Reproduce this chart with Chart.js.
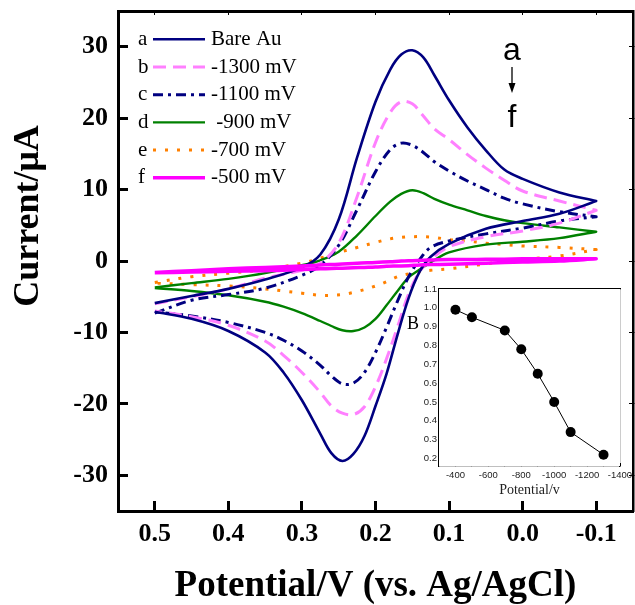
<!DOCTYPE html>
<html><head><meta charset="utf-8">
<script src="https://cdn.jsdelivr.net/npm/chart.js@4/dist/chart.umd.min.js"></script>
<style>
html,body{margin:0;padding:0;background:#fff;overflow:hidden}
#wrap{position:relative;width:635px;height:605px}
#main{position:absolute;left:0;top:0}
#inset{position:absolute;left:395px;top:282px}
</style></head>
<body><div id="wrap"><canvas id="main" width="635" height="605"></canvas><canvas id="inset" width="240" height="218"></canvas></div>
<script>
// ---------- data ----------
const potFwd = [0.5,0.45,0.4,0.35,0.3,0.275,0.25,0.225,0.2,0.18,0.165,0.15,0.135,0.12,0.1,0.075,0.05,0.025,0,-0.05,-0.1];
const potRev = [-0.1,-0.05,0,0.05,0.1,0.125,0.14,0.155,0.17,0.185,0.2,0.215,0.23,0.245,0.26,0.275,0.3,0.325,0.35,0.4,0.45,0.5];

const aFwd = [-5.9,-4.9,-3.9,-2.6,-0.9,0.9,5.8,14.5,22.3,26.8,28.9,29.5,28.5,26,22.5,18.7,15.5,12.8,11.5,9.6,8.4];
const aRev = [8.4,6.6,5.6,4.5,2.4,0.6,-1.5,-5.2,-10.3,-15.8,-20.3,-24.5,-27.0,-28.0,-26.9,-24.2,-19.5,-15.6,-12.8,-9.8,-8.1,-7.1];
const bFwd = [-6.0,-5.0,-3.9,-2.4,-1.3,-0.3,2.5,9.0,16.6,20.8,22.3,22.0,20.3,18.5,17.0,14.9,13.0,11.3,9.8,8.4,7.1];
const bRev = [7.1,5.3,4.2,3.4,2.0,0.2,-1.5,-4.6,-9.2,-13.7,-17.6,-20.4,-21.5,-21.3,-20.3,-18.4,-15.6,-13.2,-11.2,-9.0,-7.8,-7.0];
const cFwd = [-7.3,-5.5,-4.7,-3.8,-2.0,-0.6,2.2,7.2,12.5,15.6,16.5,16.2,15.2,13.9,12.6,11.2,10.0,8.8,8.0,6.9,6.2];
const cRev = [6.2,5.6,4.6,3.8,2.8,1.9,0.2,-2.2,-5.6,-9.3,-12.8,-15.6,-17.1,-17.2,-16.1,-14.6,-12.6,-11.1,-10.0,-8.6,-7.7,-7.1];
const dFwd = [-3.7,-3.1,-2.5,-1.7,-0.6,0.1,1.3,3.6,6.3,8.3,9.4,9.9,9.5,8.7,7.9,7.1,6.3,5.7,5.3,4.7,4.1];
const dRev = [4.1,3.2,2.7,2.3,1.2,-0.2,-1.2,-2.3,-4.2,-6.2,-8.1,-9.3,-9.8,-9.7,-9.1,-8.4,-7.3,-6.4,-5.7,-4.8,-4.2,-3.8];
const eFwd = [-3.0,-2.2,-1.7,-1.2,-0.3,0.4,1.2,1.9,2.6,3.1,3.3,3.4,3.4,3.3,3.0,2.8,2.5,2.3,2.1,1.9,1.6];
const eRev = [1.6,0.7,0.2,-0.4,-1.1,-1.3,-1.5,-1.8,-2.2,-2.9,-3.5,-4.0,-4.4,-4.7,-4.8,-4.8,-4.5,-4.2,-3.9,-3.5,-3.3,-3.1];
const fFwd = [-1.6,-1.35,-1.1,-0.9,-0.7,-0.55,-0.45,-0.3,-0.2,-0.1,0.0,0.05,0.1,0.15,0.2,0.2,0.25,0.25,0.3,0.3,0.3];
const fRev = [0.3,0.0,-0.15,-0.3,-0.45,-0.5,-0.55,-0.65,-0.7,-0.75,-0.85,-0.9,-0.95,-1.0,-1.05,-1.1,-1.2,-1.3,-1.35,-1.45,-1.55,-1.65];

const seriesLetters = ['a','b','c','d','e','f'];
const seriesNames = ['Bare Au','-1300 mV','-1100 mV',' -900 mV','-700 mV','-500 mV'];
const xTickVals = [0.5,0.4,0.3,0.2,0.1,0.0,-0.1];
const yTickVals = [30,20,10,0,-10,-20,-30];
const xTitle = 'Potential/V (vs. Ag/AgCl)';
const yTitle = 'Current/\u03BCA';

// inset
const insetPot = [-400,-500,-700,-800,-900,-1000,-1100,-1300];
const insetVal = [0.99,0.95,0.88,0.78,0.65,0.50,0.34,0.22];
const insetXTicks = [-400,-500,-600,-700,-800,-900,-1000,-1100,-1200,-1300,-1400];
const insetYTicks = [0.2,0.25,0.3,0.35,0.4,0.45,0.5,0.55,0.6,0.65,0.7,0.75,0.8,0.85,0.9,0.95,1.0,1.05,1.1];
const insetXTitle = 'Potential/v';
const insetLabel = 'B';

// ---------- helpers ----------
function pts(xs, ys){ return xs.map((x,i)=>({x:x, y:ys[i]})); }
function loop(f, r){ return pts(potFwd, f).concat(pts(potRev, r)); }
function zeroPad(s){ s.paddingLeft=0; s.paddingRight=0; s.paddingTop=0; s.paddingBottom=0; }
const SERIF = '"Liberation Serif","Times New Roman",serif';
const SANS = '"Liberation Sans",Arial,sans-serif';

const mk = (i, data, style) => Object.assign({label: seriesNames[i], data: data, showLine: true,
  pointRadius: 0, pointHoverRadius: 0, tension: 0.35, fill: false,
  borderCapStyle: 'butt', borderJoinStyle: 'round'}, style);

const legendPlugin = {
  id: 'cvLegend',
  afterDatasetsDraw(chart){
    const ctx = chart.ctx;
    ctx.save();
    chart.data.datasets.forEach((ds, i) => {
      const y = 39.3 + i * 27.7;
      ctx.fillStyle = '#000';
      ctx.font = '21px ' + SERIF;
      ctx.textBaseline = 'middle';
      ctx.textAlign = 'left';
      ctx.fillText(seriesLetters[i], 138, y);
      ctx.fillText(seriesNames[i], 211, y);
      ctx.beginPath();
      ctx.strokeStyle = ds.borderColor;
      ctx.lineWidth = ds.borderWidth;
      ctx.setLineDash(ds.borderDash || []);
      ctx.lineCap = 'butt';
      ctx.moveTo(153, y); ctx.lineTo(205, y);
      ctx.stroke();
      ctx.setLineDash([]);
    });
    // a -> f annotation
    ctx.fillStyle = '#000';
    ctx.font = '32px ' + SANS;
    ctx.textAlign = 'center';
    ctx.textBaseline = 'alphabetic';
    ctx.fillText(seriesLetters[0], 512, 60);
    ctx.fillText(seriesLetters[5], 512, 127);
    ctx.beginPath(); ctx.strokeStyle = '#000'; ctx.lineWidth = 1.3;
    ctx.moveTo(512, 67); ctx.lineTo(512, 86); ctx.stroke();
    ctx.beginPath(); ctx.moveTo(508.5, 83); ctx.lineTo(515.5, 83); ctx.lineTo(512, 93); ctx.closePath(); ctx.fill();
    // y title
    ctx.save();
    ctx.translate(38, 216);
    ctx.rotate(-Math.PI/2);
    ctx.font = 'bold 36px ' + SERIF;
    ctx.textAlign = 'center';
    ctx.textBaseline = 'alphabetic';
    ctx.fillText(yTitle, 0, 0);
    ctx.restore();
    ctx.restore();
  }
};

const tickFont = {family: SERIF, size: 26, weight: 'bold'};

new Chart(document.getElementById('main'), {
  type: 'scatter',
  data: { datasets: [
    mk(0, loop(aFwd, aRev), {borderColor: '#000080', borderWidth: 2.6}),
    mk(1, loop(bFwd, bRev), {borderColor: '#FF80FF', borderWidth: 3, borderDash: [13,7]}),
    mk(2, loop(cFwd, cRev), {borderColor: '#000080', borderWidth: 3, borderDash: [10,5,3,5]}),
    mk(3, loop(dFwd, dRev), {borderColor: '#008000', borderWidth: 2.4}),
    mk(4, loop(eFwd, eRev), {borderColor: '#FF8000', borderWidth: 3, borderDash: [3,9]}),
    mk(5, loop(fFwd, fRev), {borderColor: '#FF00FF', borderWidth: 3.5, order: -1})
  ]},
  options: {
    responsive: false, animation: false, devicePixelRatio: 1,
    layout: { padding: {left: 0, right: 2, top: 11, bottom: 0} },
    plugins: { legend: {display: false}, tooltip: {enabled: false} },
    scales: {
      x: { type: 'linear', position: 'bottom', min: -0.15, max: 0.55, reverse: true,
        afterBuildTicks: s => { s.ticks = xTickVals.map(v => ({value: v})); },
        afterFit: s => { s.height = 94; zeroPad(s); },
        ticks: { padding: 18, color: '#000', font: tickFont, autoSkip: false, maxRotation: 0,
          callback: v => Number(v).toFixed(1) },
        grid: { drawOnChartArea: false, drawTicks: true, tickLength: -10, tickWidth: 3, tickColor: '#000' },
        border: { display: true, color: '#000', width: 3 },
        title: { display: true, text: xTitle, color: '#000',
          font: {family: SERIF, size: 37, weight: 'bold', lineHeight: 1}, padding: {top: 0, bottom: 0} }
      },
      x2: { type: 'linear', position: 'top', min: -0.15, max: 0.55, reverse: true,
        afterBuildTicks: s => { s.ticks = xTickVals.map(v => ({value: v})); },
        afterFit: s => { s.height = 0; zeroPad(s); },
        ticks: { display: false },
        grid: { drawOnChartArea: false, drawTicks: true, tickLength: -4, tickWidth: 1, tickColor: '#000' },
        border: { display: true, color: '#000', width: 3 }
      },
      y: { type: 'linear', position: 'left', min: -35, max: 35,
        afterBuildTicks: s => { s.ticks = yTickVals.map(v => ({value: v})); },
        afterFit: s => { s.width = 118; zeroPad(s); },
        ticks: { padding: 20, color: '#000', font: tickFont, autoSkip: false,
          callback: v => String(v) },
        grid: { drawOnChartArea: false, drawTicks: true, tickLength: -10, tickWidth: 3, tickColor: '#000' },
        border: { display: true, color: '#000', width: 3 }
      },
      y2: { type: 'linear', position: 'right', min: -35, max: 35,
        afterBuildTicks: s => { s.ticks = yTickVals.map(v => ({value: v})); },
        afterFit: s => { s.width = 0; zeroPad(s); },
        ticks: { display: false },
        grid: { drawOnChartArea: false, drawTicks: true, tickLength: -4, tickWidth: 1, tickColor: '#000' },
        border: { display: true, color: '#000', width: 2.5 }
      }
    }
  },
  plugins: [legendPlugin]
});

// ---------- inset ----------
const insetPlugin = {
  id: 'insetDeco',
  beforeDatasetsDraw(chart){
    const a = chart.chartArea, ctx = chart.ctx;
    ctx.save(); ctx.fillStyle = '#fff';
    ctx.fillRect(a.left, a.top, a.right - a.left, a.bottom - a.top);
    ctx.restore();
  },
  afterDraw(chart){
    const ctx = chart.ctx;
    ctx.save();
    ctx.fillStyle = '#000';
    ctx.font = '18px ' + SERIF;
    ctx.textAlign = 'left'; ctx.textBaseline = 'alphabetic';
    ctx.fillText(insetLabel, 12, 47);
    ctx.restore();
  }
};
const insetTickFont = {family: SANS, size: 9.5};
new Chart(document.getElementById('inset'), {
  type: 'scatter',
  data: { datasets: [{
    data: pts(insetPot, insetVal), showLine: true, borderColor: '#000', borderWidth: 1,
    pointRadius: 5, pointBackgroundColor: '#000', pointBorderColor: '#000', pointBorderWidth: 0, tension: 0
  }]},
  options: {
    responsive: false, animation: false, devicePixelRatio: 1,
    layout: { padding: {left: 0, right: 15, top: 7, bottom: 0} },
    plugins: { legend: {display: false}, tooltip: {enabled: false} },
    scales: {
      x: { type: 'linear', position: 'bottom', min: -1400, max: -300, reverse: true,
        afterBuildTicks: s => { s.ticks = insetXTicks.map(v => ({value: v})); },
        afterFit: s => { s.height = 34; zeroPad(s); },
        ticks: { padding: 6.5, color: '#222', font: insetTickFont, autoSkip: false, maxRotation: 0,
          callback: v => (v % 200 === 0 ? String(v) : '') },
        grid: { drawOnChartArea: false, drawTicks: true, tickLength: -3, tickWidth: 1, tickColor: '#000' },
        border: { display: true, color: '#000', width: 1.2 },
        title: { display: true, text: insetXTitle, color: '#222',
          font: {family: SERIF, size: 14, lineHeight: 1}, padding: {top: 0, bottom: 3} }
      },
      x2: { type: 'linear', position: 'top', min: -1400, max: -300, reverse: true,
        afterFit: s => { s.height = 0; zeroPad(s); },
        ticks: { display: false }, grid: { display: false },
        border: { display: true, color: '#000', width: 1.2 }
      },
      y: { type: 'linear', position: 'left', min: 0.16, max: 1.1,
        afterBuildTicks: s => { s.ticks = insetYTicks.map(v => ({value: v})); },
        afterFit: s => { s.width = 44; zeroPad(s); },
        ticks: { padding: 5, color: '#222', font: insetTickFont, autoSkip: false,
          callback: v => (Math.abs(v * 10 - Math.round(v * 10)) < 1e-6 ? Number(v).toFixed(1) : '') },
        grid: { drawOnChartArea: false, drawTicks: true, tickLength: -3, tickWidth: 1, tickColor: '#000' },
        border: { display: true, color: '#000', width: 1.2 }
      },
      y2: { type: 'linear', position: 'right', min: 0.16, max: 1.1,
        afterFit: s => { s.width = 0; zeroPad(s); },
        ticks: { display: false }, grid: { display: false },
        border: { display: true, color: '#000', width: 1.2 }
      }
    }
  },
  plugins: [insetPlugin]
});
</script>
</body></html>
